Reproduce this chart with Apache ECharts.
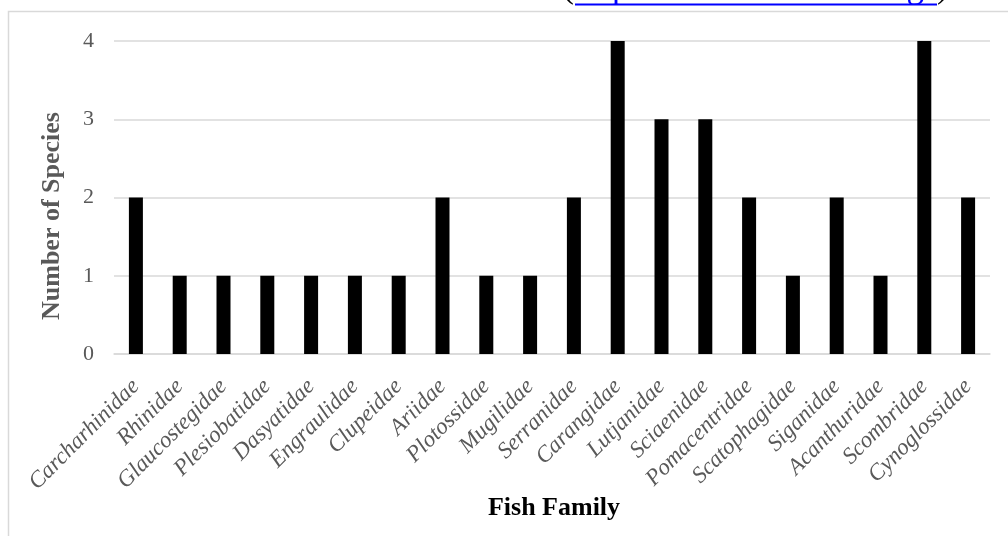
<!DOCTYPE html>
<html>
<head>
<meta charset="utf-8">
<style>
  html, body { margin: 0; padding: 0; background: #fff; }
  #chart { width: 1008px; height: 536px; }
</style>
<script src="https://cdn.jsdelivr.net/npm/echarts@6/dist/echarts.min.js"></script>
</head>
<body>
<div id="chart"></div>
<script>
// Fish families recorded and the number of species in each
const families = [
  'Carcharhinidae', 'Rhinidae', 'Glaucostegidae', 'Plesiobatidae', 'Dasyatidae',
  'Engraulidae', 'Clupeidae', 'Ariidae', 'Plotossidae', 'Mugilidae',
  'Serranidae', 'Carangidae', 'Lutjanidae', 'Sciaenidae', 'Pomacentridae',
  'Scatophagidae', 'Siganidae', 'Acanthuridae', 'Scombridae', 'Cynoglossidae'
];
const speciesCount = [2, 1, 1, 1, 1, 1, 1, 2, 1, 1, 2, 4, 3, 3, 2, 1, 2, 1, 4, 2];
const yTicks = [0, 1, 2, 3, 4];

const serif = '"Liberation Serif", "Times New Roman", serif';
const chart = echarts.init(document.getElementById('chart'), null, { renderer: 'canvas' });

chart.setOption({
  animation: false,
  backgroundColor: '#ffffff',
  grid: { left: 114, right: 18, top: 41, bottom: 182 },
  xAxis: {
    type: 'category',
    data: families,
    axisLine: { show: true, lineStyle: { color: '#d9d9d9', width: 1.5 } },
    axisTick: { show: false },
    axisLabel: {
      rotate: 45,
      interval: 0,
      margin: 29,
      fontFamily: serif,
      fontStyle: 'italic',
      fontSize: 23,
      color: '#595959'
    }
  },
  yAxis: {
    type: 'value',
    min: yTicks[0],
    max: yTicks[yTicks.length - 1],
    interval: 1,
    axisLine: { show: false },
    axisTick: { show: false },
    splitLine: { lineStyle: { color: '#d9d9d9', width: 1.5 } },
    axisLabel: {
      margin: 20,
      fontFamily: serif,
      fontSize: 22,
      color: '#595959'
    }
  },
  series: [{
    type: 'bar',
    data: speciesCount,
    barWidth: 14,
    itemStyle: { color: '#000000' }
  }],
  graphic: [
    {
      type: 'rect',
      silent: true,
      shape: { x: 8.5, y: 11.5, width: 1010, height: 540 },
      style: { fill: 'none', stroke: '#d9d9d9', lineWidth: 1.5 }
    },
    // source reference line above the chart frame
    {
      type: 'text',
      x: 574, y: 5,
      style: {
        text: '(',
        font: '35px ' + serif,
        fill: '#000000',
        align: 'right',
        verticalAlign: 'bottom'
      }
    },
    {
      type: 'text',
      x: 575, y: 5,
      style: {
        text: 'https://www.fishbase.org/',
        font: '35px ' + serif,
        fill: '#0000ff',
        align: 'left',
        verticalAlign: 'bottom'
      }
    },
    {
      type: 'text',
      x: 937, y: 5,
      style: {
        text: ').',
        font: '35px ' + serif,
        fill: '#000000',
        align: 'left',
        verticalAlign: 'bottom'
      }
    },
    {
      type: 'line',
      shape: { x1: 575, y1: 4.5, x2: 937, y2: 4.5 },
      style: { stroke: '#0000ff', lineWidth: 2 }
    },
    {
      type: 'text',
      x: 52, y: 216,
      rotation: Math.PI / 2,
      style: {
        text: 'Number of Species',
        font: 'bold 26px ' + serif,
        fill: '#595959',
        align: 'center',
        verticalAlign: 'middle'
      }
    },
    {
      type: 'text',
      x: 554, y: 508,
      style: {
        text: 'Fish Family',
        font: 'bold 26px ' + serif,
        fill: '#000000',
        align: 'center',
        verticalAlign: 'middle'
      }
    }
  ]
});
</script>
</body>
</html>
